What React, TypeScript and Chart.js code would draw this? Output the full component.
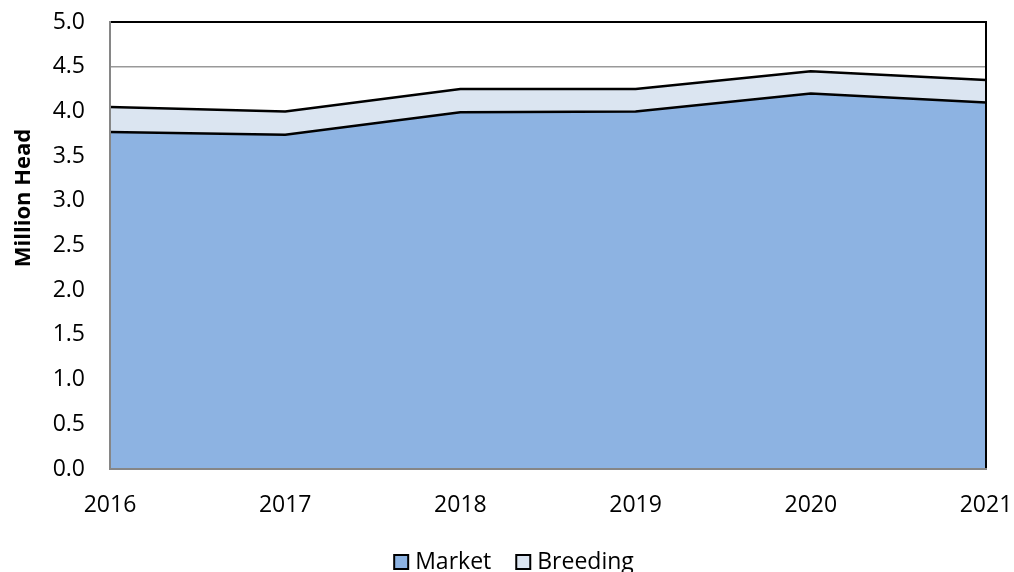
import React, { useEffect, useRef } from "react";
import { Chart, registerables } from "chart.js";

Chart.register(...registerables);

const years = ["2016", "2017", "2018", "2019", "2020", "2021"];
const market = [3.77, 3.74, 3.99, 4.0, 4.2, 4.1];
const breeding = [0.28, 0.26, 0.26, 0.25, 0.25, 0.25];
const seriesNames = ["Market", "Breeding"];
const yTitle = "Million Head";
const fillColors = ["#8DB3E2", "#DBE5F1"];

const FONT = "'Open Sans', 'Liberation Sans', sans-serif";

const framePlugin = {
  id: "frame",
  afterDatasetsDraw(chart: any) {
    const { ctx, chartArea } = chart;
    const { left, right, top, bottom } = chartArea;
    ctx.save();
    ctx.lineCap = "square";
    ctx.strokeStyle = "#000";
    ctx.lineWidth = 2;
    ctx.beginPath();
    ctx.moveTo(left, top);
    ctx.lineTo(right, top);
    ctx.lineTo(right, bottom);
    ctx.stroke();
    ctx.strokeStyle = "#868686";
    ctx.lineWidth = 2;
    ctx.beginPath();
    ctx.moveTo(left, top);
    ctx.lineTo(left, bottom);
    ctx.lineTo(right, bottom);
    ctx.stroke();
    ctx.restore();
  },
  afterDraw(chart: any) {
    const { ctx } = chart;
    ctx.save();
    // y-axis title
    ctx.save();
    ctx.translate(24, 198);
    ctx.rotate(-Math.PI / 2);
    ctx.font = `bold 22px ${FONT}`;
    ctx.fillStyle = "#000";
    ctx.textAlign = "center";
    ctx.textBaseline = "middle";
    ctx.fillText(yTitle, 0, 0);
    ctx.restore();
    // legend
    ctx.font = `23px ${FONT}`;
    ctx.textBaseline = "middle";
    const cy = 562;
    const box = 14;
    const items = chart.data.datasets.map((d: any) => d.label);
    const widths = items.map((t: string) => ctx.measureText(t).width);
    const gap = 7;
    const spacing = 25;
    let total = 0;
    items.forEach((_: any, i: number) => {
      total += box + gap + widths[i] + (i < items.length - 1 ? spacing : 0);
    });
    let x = 514 - total / 2;
    items.forEach((t: string, i: number) => {
      ctx.fillStyle = fillColors[i];
      ctx.fillRect(x, cy - box / 2, box, box);
      ctx.strokeStyle = "#000";
      ctx.lineWidth = 2;
      ctx.strokeRect(x, cy - box / 2, box, box);
      ctx.fillStyle = "#000";
      ctx.fillText(t, x + box + gap, cy);
      x += box + gap + widths[i] + spacing;
    });
    ctx.restore();
  },
};

export default function App() {
  const ref = useRef<HTMLCanvasElement>(null);
  useEffect(() => {
    if (!ref.current) return;
    const chart = new Chart(ref.current, {
      type: "line",
      data: {
        labels: years,
        datasets: [
          {
            label: seriesNames[0],
            data: market,
            backgroundColor: fillColors[0],
            borderColor: "#000",
            borderWidth: 2.5,
            fill: "origin",
            pointRadius: 0,
            tension: 0,
          },
          {
            label: seriesNames[1],
            data: breeding,
            backgroundColor: fillColors[1],
            borderColor: "#000",
            borderWidth: 2.5,
            fill: "-1",
            pointRadius: 0,
            tension: 0,
          },
        ],
      },
      options: {
        responsive: false,
        animation: false,
        layout: { padding: { left: 0, top: 22, right: 28, bottom: 0 } },
        plugins: { legend: { display: false }, tooltip: { enabled: false } },
        scales: {
          x: {
            offset: false,
            grid: { display: false, drawTicks: false },
            border: { display: false },
            ticks: {
              color: "#000",
              font: { family: FONT, size: 23 },
              padding: 23,
              maxRotation: 0,
            },
            afterFit(scale: any) {
              scale.height = 103;
              scale.paddingLeft = 0;
              scale.paddingRight = 0;
            },
          },
          y: {
            stacked: true,
            min: 0,
            max: 5,
            grid: { color: "#999", lineWidth: 1.5, drawTicks: false },
            border: { display: false },
            ticks: {
              stepSize: 0.5,
              color: "#000",
              font: { family: FONT, size: 23 },
              padding: 25,
              callback: (v: any) => Number(v).toFixed(1),
            },
            afterFit(scale: any) {
              scale.width = 110;
              scale.paddingTop = 0;
              scale.paddingBottom = 0;
            },
          },
        },
      },
      plugins: [framePlugin],
    });
    return () => chart.destroy();
  }, []);
  return (
    <div style={{ position: "absolute", left: 0, top: 0, width: 1014, height: 572, background: "#fff" }}>
      <canvas ref={ref} width={1014} height={572} />
    </div>
  );
}
